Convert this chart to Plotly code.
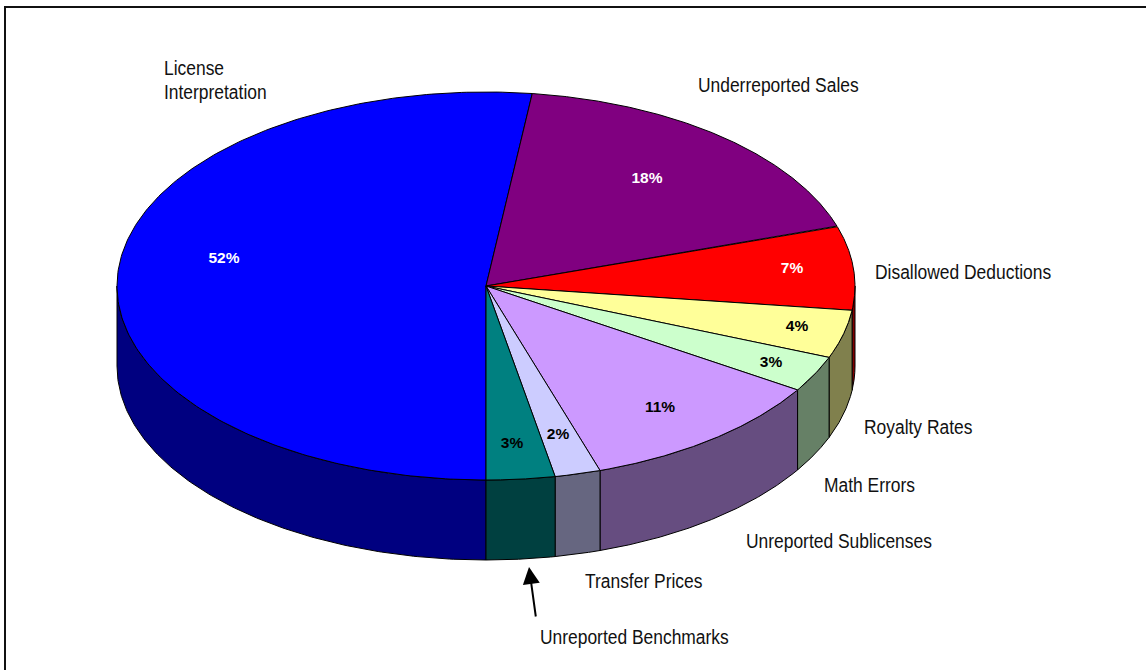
import numpy as np
import plotly.graph_objects as go

# Audit findings by category, in clockwise order from six o'clock
categories = ["License Interpretation", "Underreported Sales", "Disallowed Deductions",
              "Royalty Rates", "Math Errors", "Unreported Sublicenses",
              "Transfer Prices", "Unreported Benchmarks"]
shares = [52, 18, 7, 4, 3, 11, 2, 3]
top_colors = ["#0000FF", "#800080", "#FF0000", "#FFFF99",
              "#CCFFCC", "#CC99FF", "#CCCCFF", "#008080"]
side_colors = ["#000080", "#400040", "#800000", "#80804D",
               "#668066", "#664D80", "#666680", "#004040"]
pct_colors = ["white", "white", "white", "black", "black", "black", "black", "black"]

# The first category name is set on two lines
name_labels = ["License", "Interpretation", "Underreported Sales", "Disallowed Deductions",
               "Royalty Rates", "Math Errors", "Unreported Sublicenses",
               "Transfer Prices", "Unreported Benchmarks"]
name_x = [164, 164, 698, 875, 864, 824, 746, 585, 540]
name_y = [70, 94, 87, 274, 429, 487, 543, 583, 639]
pct_x = [224, 647, 792, 797, 771, 660, 558, 512]
pct_y = [259, 179, 269, 327, 363, 408, 435, 444]

# Tilted-disc geometry in page pixels
CX, CY, RX, RY, DEPTH = 486, 286, 369, 194, 80
START_DEG = 180
NARROW = 0.83  # horizontal squeeze giving the category names a narrow face


def rim(deg):
    rad = np.radians(deg)
    return CX + RX * np.sin(rad), CY - RY * np.cos(rad)


fig = go.Figure()

bounds = START_DEG + np.cumsum([0] + shares) * 3.6

# Outer wall: only the part of each slice on the near half of the disc is visible
for name, a0, a1, col in zip(categories, bounds[:-1], bounds[1:], side_colors):
    for lo, hi in [(90, 270), (450, 630)]:
        s, e = max(a0, lo), min(a1, hi)
        if e <= s:
            continue
        x, y = rim(np.linspace(s, e, 160))
        fig.add_trace(go.Scatter(
            x=np.r_[x, x[::-1], x[0]], y=np.r_[y, y[::-1] + DEPTH, y[0]],
            mode="lines", fill="toself", fillcolor=col,
            line=dict(color="black", width=1), name=name, hoverinfo="name",
        ))

# Top face of each slice
for name, a0, a1, col in zip(categories, bounds[:-1], bounds[1:], top_colors):
    x, y = rim(np.linspace(a0, a1, 240))
    fig.add_trace(go.Scatter(
        x=np.r_[CX, x, CX], y=np.r_[CY, y, CY],
        mode="lines", fill="toself", fillcolor=col,
        line=dict(color="black", width=1), name=name, hoverinfo="name",
    ))

# Percentage labels on the slices
fig.add_trace(go.Scatter(
    x=pct_x, y=pct_y, mode="text", text=[f"{v}%" for v in shares],
    textfont=dict(family="Liberation Sans", size=15.5, color=pct_colors, weight="bold"),
    hoverinfo="skip",
))

# Category names beside the pie
fig.add_trace(go.Scatter(
    x=name_x, y=name_y, mode="text", text=name_labels, textposition="middle right",
    textfont=dict(family="Liberation Sans", size=21, color="#111111"),
    hoverinfo="skip",
))

fig.update_layout(
    width=1146, height=670, margin=dict(l=0, r=0, t=0, b=0),
    paper_bgcolor="white", plot_bgcolor="white", showlegend=False,
    xaxis=dict(range=[0, 1146], visible=False, fixedrange=True),
    yaxis=dict(range=[670, 0], visible=False, fixedrange=True),
    # Pointer from the caption up to the small teal slice
    annotations=[dict(
        x=529, y=567, ax=536, ay=618, xref="x", yref="y", axref="x", ayref="y",
        text="", showarrow=True, arrowhead=2, arrowsize=1.7, arrowwidth=2, arrowcolor="black",
    )],
    # Frame: left and top rules only
    shapes=[
        dict(type="line", x0=5, x1=5, y0=7, y1=670, xref="x", yref="y",
             line=dict(color="#111111", width=2)),
        dict(type="line", x0=4, x1=1146, y0=7, y1=7, xref="x", yref="y",
             line=dict(color="#111111", width=2)),
    ],
)

# Squeeze the category names horizontally around their left edge
squeeze_names = """
var gd = document.getElementById('{plot_id}');
var traces = gd.querySelectorAll('.scatterlayer .trace');
var names = traces[traces.length - 1].querySelectorAll('.textpoint text');
names.forEach(function (t) {
  var x = parseFloat(t.getAttribute('x'));
  t.setAttribute('transform', 'translate(' + x * (1 - %s) + ',0) scale(%s,1)');
});
""" % (NARROW, NARROW)

fig.write_html("out.html", post_script=squeeze_names)
